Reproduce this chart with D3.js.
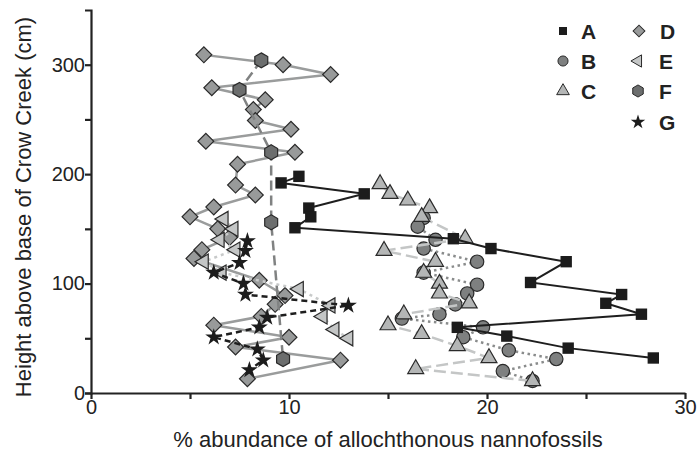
<!DOCTYPE html>
<html>
<head>
<meta charset="utf-8">
<script src="https://cdn.jsdelivr.net/npm/d3@7"></script>
<style>
  body { margin: 0; background: #fff; }
  text { font-family: "Liberation Sans", Arial, sans-serif; fill: #222; }
</style>
</head>
<body>
<svg width="699" height="453"></svg>
<script>
// heights (cm) and % abundance
const aHgt = [198, 192, 182, 169, 161, 151, 141, 132, 120, 101, 90, 82, 72, 60, 52, 41, 32];
const aVal = [10.5, 9.6, 13.8, 11.0, 11.1, 10.3, 18.3, 20.2, 24.0, 22.2, 26.8, 26.0, 27.8, 18.5, 21.0, 24.1, 28.4];

const bHgt = [160, 152, 140, 132, 120, 110, 99, 91, 81, 72, 68, 60, 51, 39, 31, 20, 11];
const bVal = [16.8, 16.5, 17.4, 16.8, 19.5, 16.8, 19.5, 19.0, 18.4, 17.6, 15.7, 19.8, 18.8, 21.1, 23.5, 20.8, 22.3];

const cHgt = [191, 182, 176, 169, 161, 141, 130, 120, 110, 100, 91, 82, 72, 62, 54, 43, 32, 22, 11];
const cVal = [14.6, 15.1, 16.0, 17.1, 16.7, 18.9, 14.8, 17.4, 16.8, 17.6, 17.6, 19.1, 15.8, 15.0, 16.7, 18.5, 20.1, 16.4, 22.3];

const dHgt = [309, 300, 291, 279, 268, 259, 249, 241, 230, 220, 209, 190, 181, 170, 161, 150, 142, 131, 123, 103, 89, 81, 70, 62, 51, 42, 30, 13];
const dVal = [5.7, 9.7, 12.1, 6.1, 8.8, 8.2, 8.3, 10.1, 5.8, 10.3, 7.4, 7.3, 8.3, 6.2, 5.0, 6.4, 7.0, 5.6, 5.2, 8.5, 9.8, 9.3, 8.6, 6.2, 10.0, 7.3, 12.6, 7.9];

const eHgt = [159, 150, 140, 131, 120, 110, 95, 80, 70, 58, 50];
const eVal = [6.7, 7.2, 6.5, 7.3, 5.7, 6.6, 10.5, 12.1, 11.7, 12.3, 13.0];

const fHgt = [304, 277, 220, 156, 31];
const fVal = [8.6, 7.5, 9.1, 9.1, 9.7];

const gHgt = [139, 130, 119, 110, 100, 90, 80, 69, 60, 51, 40, 30, 21];
const gVal = [7.9, 7.8, 7.5, 6.2, 7.7, 7.8, 13.0, 8.9, 8.5, 6.2, 8.4, 8.7, 8.0];

const xTicks = [0, 5, 10, 15, 20, 25, 30];
const yTicks = [0, 50, 100, 150, 200, 250, 300];

const svg = d3.select('svg');
const x = d3.scaleLinear().domain([0, 30]).range([91, 685]);
const y = d3.scaleLinear().domain([0, 350]).range([393, 10]);

// hexagon, pointy top
const hexagon = {
    draw(ctx, size) {
        const r = Math.sqrt(size / (1.5 * Math.sqrt(3)));
        for (let i = 0; i < 6; i++) {
            const a = Math.PI / 3 * i - Math.PI / 2;
            i ? ctx.lineTo(r * Math.cos(a), r * Math.sin(a)) : ctx.moveTo(r * Math.cos(a), r * Math.sin(a));
        }
        ctx.closePath();
    }
};

const series = [
    {name: 'D', hgt: dHgt, val: dVal, type: d3.symbolSquare, rot: 45, size: 125, fill: '#989a9a', line: '#9a9c9c', dash: null, w: 2.5},
    {name: 'F', hgt: fHgt, val: fVal, type: hexagon, rot: 0, size: 145, fill: '#6c6e6e', line: '#808282', dash: '10,5', w: 2.5},
    {name: 'E', hgt: eHgt, val: eVal, type: d3.symbolTriangle, rot: -90, size: 100, fill: '#c4c6c6', line: '#c8caca', dash: '3,4', w: 2.5},
    {name: 'B', hgt: bHgt, val: bVal, type: d3.symbolCircle, rot: 0, size: 140, fill: '#7e8080', line: '#8a8c8c', dash: '2.5,3.5', w: 2.5},
    {name: 'C', hgt: cHgt, val: cVal, type: d3.symbolTriangle, rot: 0, size: 110, fill: '#b4b6b6', line: '#c4c6c6', dash: '12,5', w: 2.5},
    {name: 'A', hgt: aHgt, val: aVal, type: d3.symbolSquare, rot: 0, size: 130, fill: '#1c1c1c', line: '#1e1e1e', dash: null, w: 2},
    {name: 'G', hgt: gHgt, val: gVal, type: d3.symbolStar, rot: 0, size: 90, fill: '#1c1c1c', line: '#1e1e1e', dash: '6,4', w: 2.5}
];

const line = d3.line().x(d => x(d.v)).y(d => y(d.h));

series.forEach(s => {
    const pts = s.hgt.map((h, i) => ({h: h, v: s.val[i]}));
    svg.append('path')
        .attr('d', line(pts))
        .attr('fill', 'none')
        .attr('stroke', s.line)
        .attr('stroke-width', s.w)
        .attr('stroke-dasharray', s.dash);
    svg.append('g').selectAll('path').data(pts)
        .enter().append('path')
        .attr('d', d3.symbol().type(s.type).size(s.size))
        .attr('transform', d => `translate(${x(d.v)},${y(d.h)}) rotate(${s.rot})`)
        .attr('fill', s.fill)
        .attr('stroke', s.name === 'A' || s.name === 'G' ? 'none' : '#2a2a2a')
        .attr('stroke-width', 1.2);
});

// axes
const xAxis = svg.append('g')
    .attr('transform', `translate(0,${y(0)})`)
    .call(d3.axisBottom(x).tickValues(xTicks).tickSize(6).tickSizeOuter(0)
        .tickFormat(d => d % 10 === 0 ? d : ''));
const yAxis = svg.append('g')
    .attr('transform', `translate(${x(0)},0)`)
    .call(d3.axisLeft(y).tickValues(yTicks).tickSize(6).tickSizeOuter(6)
        .tickFormat(d => d % 100 === 0 ? d : ''));

[xAxis, yAxis].forEach(g => {
    g.selectAll('path, line').attr('stroke', '#222').attr('stroke-width', 2.2);
    g.selectAll('text').style('font-family', '"Liberation Sans", Arial, sans-serif')
        .style('font-size', '20px').attr('fill', '#222');
});
xAxis.selectAll('text').attr('dy', '0.8em').attr('y', 5);
yAxis.selectAll('text').attr('x', -6);

svg.append('text')
    .attr('x', 388).attr('y', 447)
    .attr('text-anchor', 'middle')
    .style('font-size', '22px')
    .text('% abundance of allochthonous nannofossils');

svg.append('text')
    .attr('transform', 'translate(31,207) rotate(-90)')
    .attr('text-anchor', 'middle')
    .style('font-size', '22px')
    .text('Height above base of Crow Creek (cm)');

// legend
const legendPos = {A: [563, 31], B: [563, 61], C: [563, 91], D: [639, 31], E: [638, 61], F: [638, 91], G: [638, 122]};
const legendSize = {A: 64, B: 80, C: 70, D: 70, E: 65, F: 95, G: 65};
series.forEach(s => {
    const p = legendPos[s.name];
    svg.append('path')
        .attr('d', d3.symbol().type(s.type).size(legendSize[s.name]))
        .attr('transform', `translate(${p[0]},${p[1]}) rotate(${s.rot})`)
        .attr('fill', s.fill)
        .attr('stroke', s.name === 'A' || s.name === 'G' ? 'none' : '#2a2a2a')
        .attr('stroke-width', 1);
    svg.append('text')
        .attr('x', p[0] + 18 + (s.name > 'C' ? 3 : 0)).attr('y', p[1])
        .attr('dy', '0.36em')
        .style('font-size', '21px')
        .style('font-weight', 'bold')
        .text(s.name);
});
</script>
</body>
</html>
